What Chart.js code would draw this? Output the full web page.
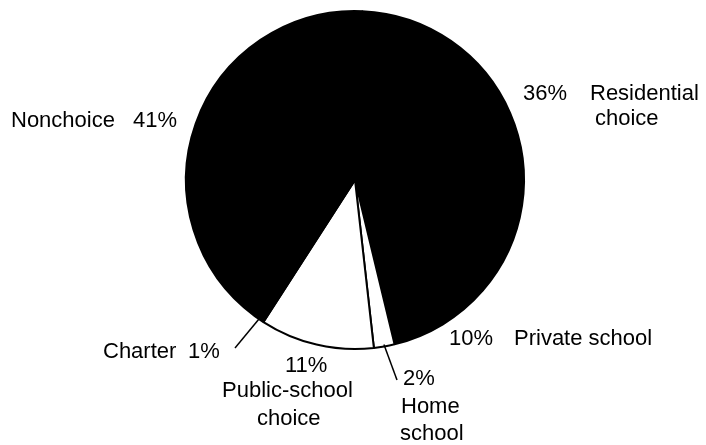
<!DOCTYPE html>
<html>
<head>
<meta charset="utf-8">
<script src="https://cdn.jsdelivr.net/npm/chart.js@4"></script>
<style>
  body { margin: 0; background: #fff; }
  canvas { display: block; }
</style>
</head>
<body>
<canvas id="choice" width="706" height="445"></canvas>
<script>
const categories = ["Residential choice", "Private school", "Home school", "Public-school choice", "Charter", "Nonchoice"];
const shares = [36, 10, 2, 11, 1, 41];
const sliceColors = ["#000", "#000", "#fff", "#fff", "#000", "#000"];

// where each label goes: percent text, name lines, optional leader line end
const labelLayout = [
  { pct: [523, 100], name: [[590, 100], [595, 125]] },
  { pct: [449, 345], name: [[514, 345]] },
  { pct: [403, 385], name: [[401, 413], [400, 440]], leader: [397, 380] },
  { pct: [285, 372], name: [[222, 397], [257, 425]] },
  { pct: [188, 358], name: [[103, 358]], leader: [235, 348] },
  { pct: [133, 127], name: [[11, 127]] },
];
// how the names break across lines
const nameLines = [
  ["Residential", "choice"],
  ["Private school"],
  ["Home", "school"],
  ["Public-school", "choice"],
  ["Charter"],
  ["Nonchoice"],
];

const sliceLabels = {
  id: "sliceLabels",
  afterDraw(chart) {
    const ctx = chart.ctx;
    const arcs = chart.getDatasetMeta(0).data;
    ctx.save();
    ctx.fillStyle = "#000";
    ctx.strokeStyle = "#000";
    ctx.lineWidth = 1.5;
    ctx.font = '22px "Liberation Sans", Arial, sans-serif';
    ctx.textBaseline = "alphabetic";
    ctx.textAlign = "left";
    labelLayout.forEach((lay, i) => {
      ctx.fillText(shares[i] + "%", lay.pct[0], lay.pct[1]);
      nameLines[i].forEach((line, j) => {
        ctx.fillText(line, lay.name[j][0], lay.name[j][1]);
      });
      if (lay.leader) {
        const a = arcs[i];
        const mid = (a.startAngle + a.endAngle) / 2;
        const r = a.outerRadius - 2;
        ctx.beginPath();
        ctx.moveTo(a.x + Math.cos(mid) * r, a.y + Math.sin(mid) * r);
        ctx.lineTo(lay.leader[0], lay.leader[1]);
        ctx.stroke();
      }
    });
    ctx.restore();
  },
};

new Chart(document.getElementById("choice"), {
  type: "pie",
  data: {
    labels: categories,
    datasets: [
      {
        data: shares,
        backgroundColor: sliceColors,
        borderColor: "#000",
        borderWidth: 2,
      },
    ],
  },
  options: {
    responsive: false,
    animation: false,
    rotation: 2.5,
    layout: { padding: { left: 185, right: 181, top: 10, bottom: 95 } },
    plugins: {
      legend: { display: false },
      tooltip: { enabled: false },
    },
  },
  plugins: [sliceLabels],
});
</script>
</body>
</html>
